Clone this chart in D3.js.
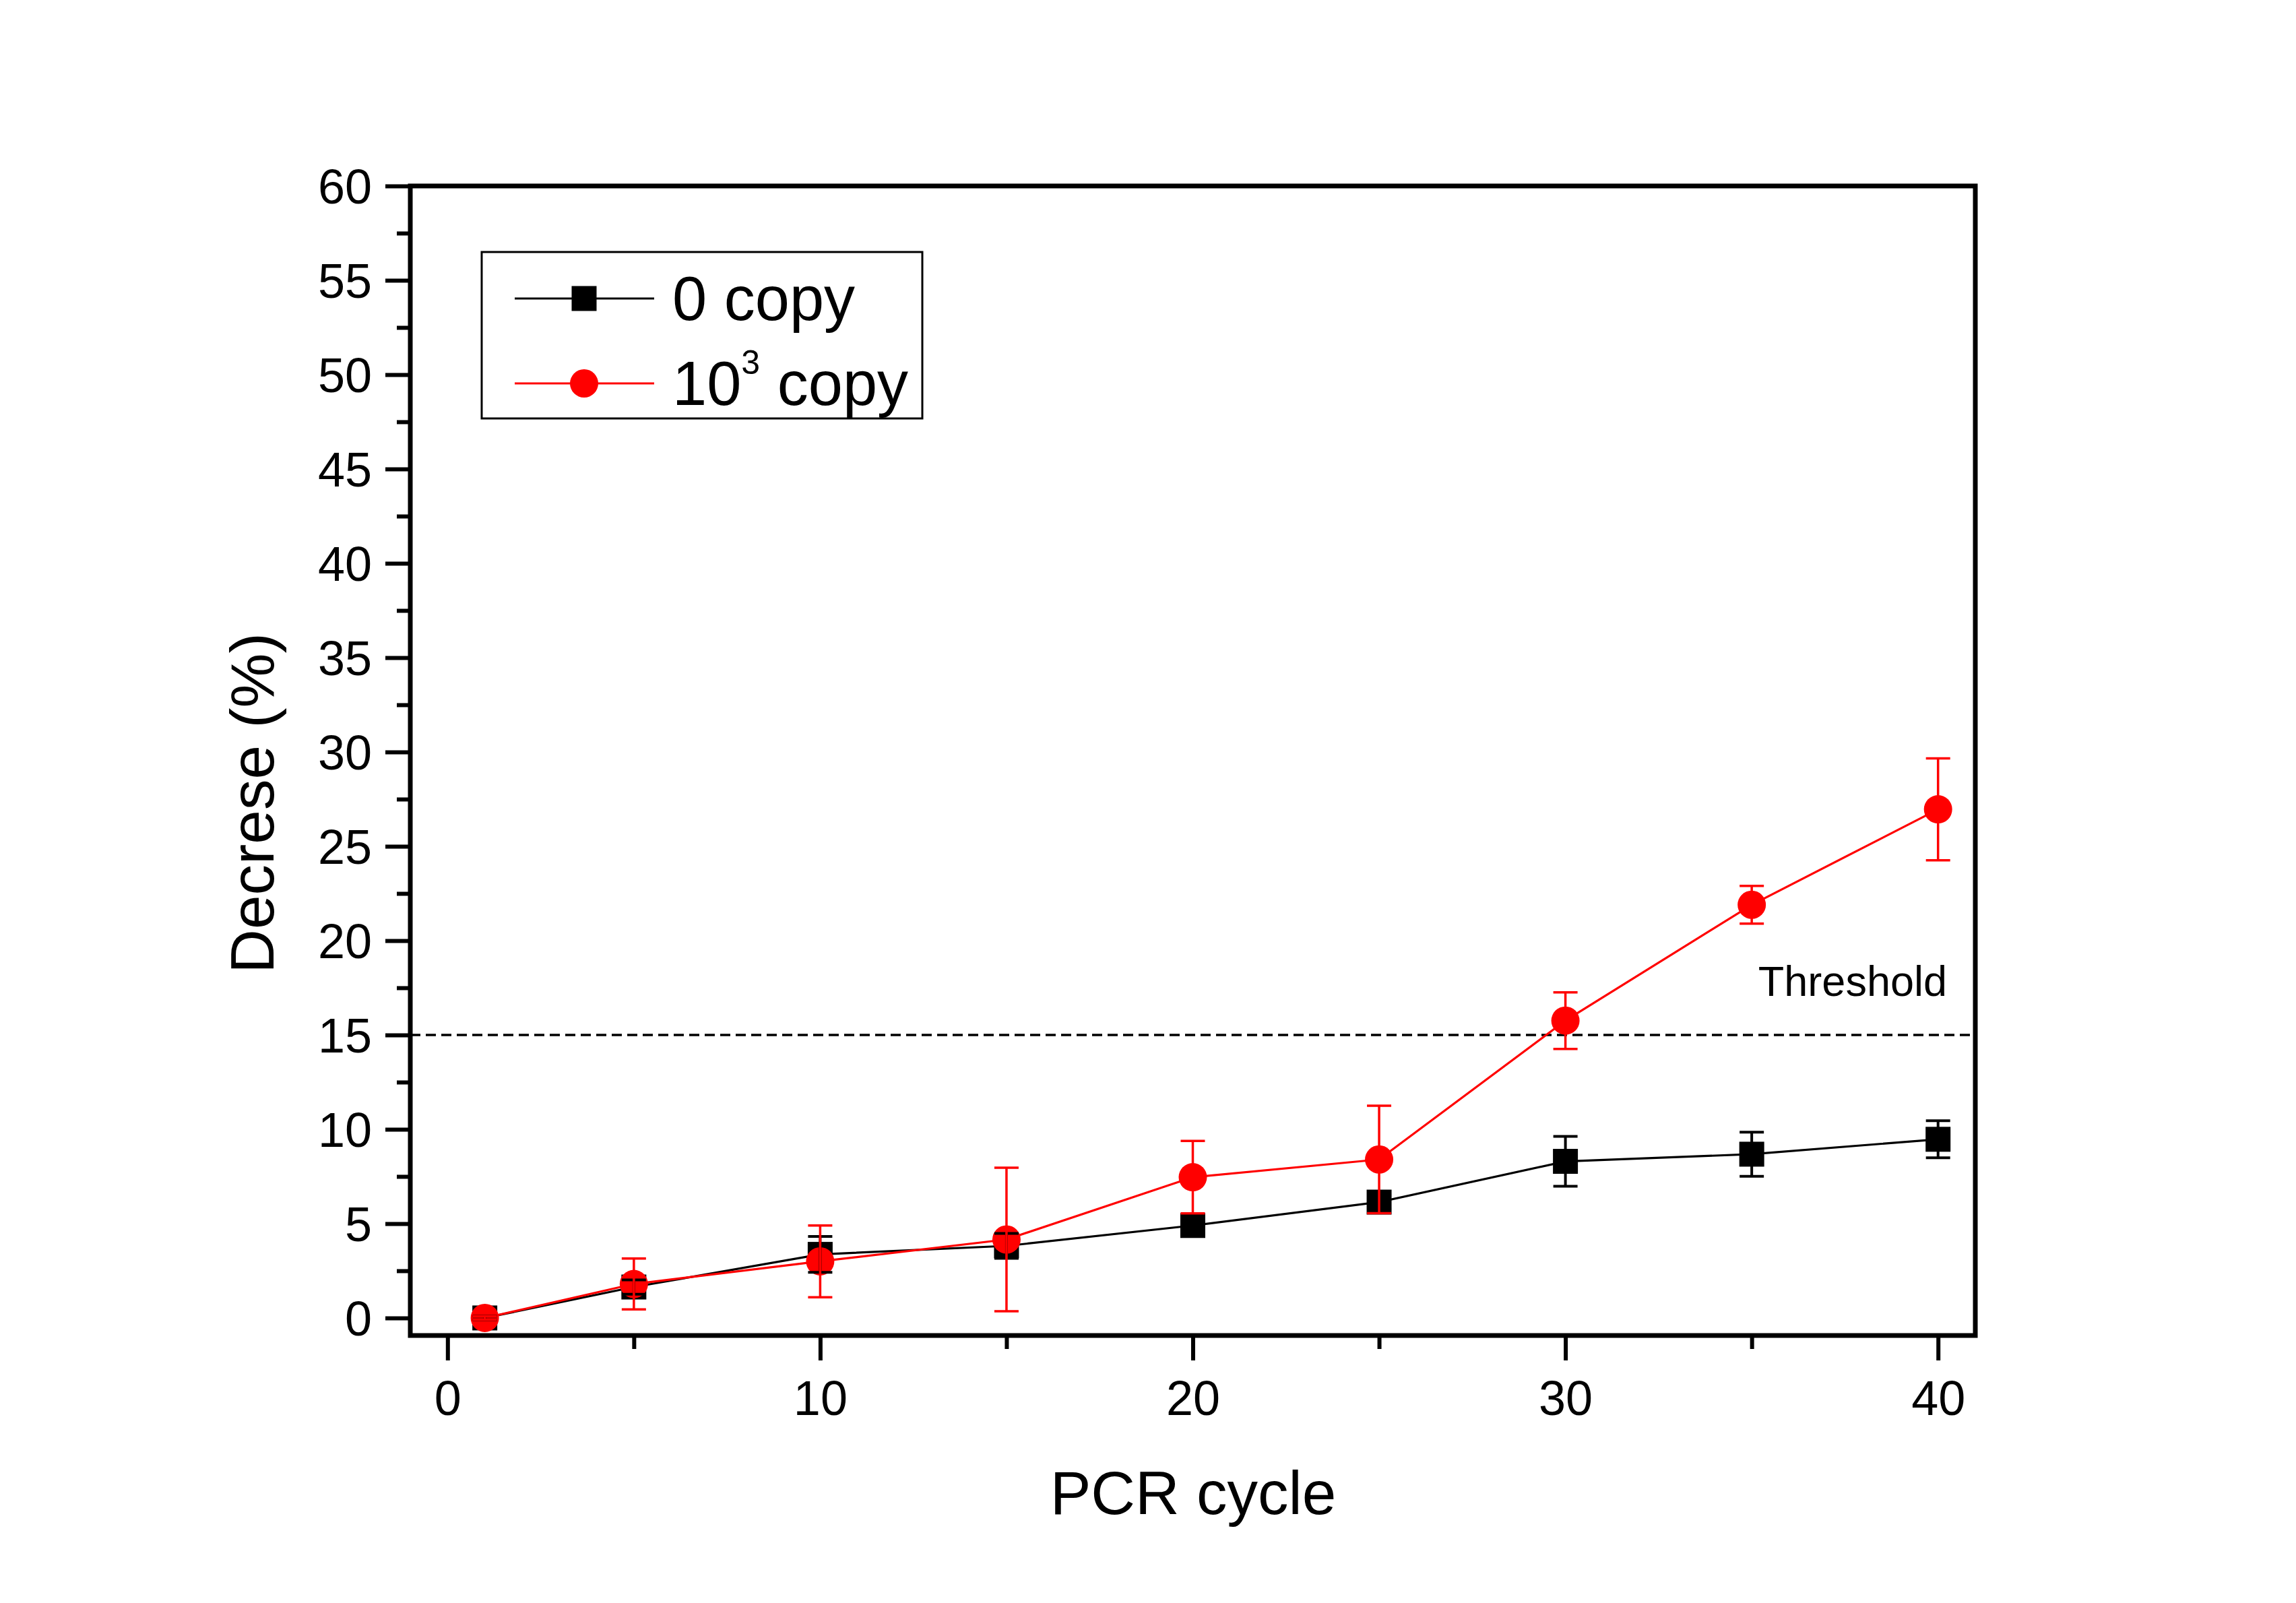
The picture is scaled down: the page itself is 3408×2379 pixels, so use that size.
<!DOCTYPE html>
<html>
<head>
<meta charset="utf-8">
<script src="https://cdn.jsdelivr.net/npm/d3@7"></script>
<style>
  html, body { margin: 0; padding: 0; background: #fff; }
  svg text { font-family: "Liberation Sans", Arial, sans-serif; fill: #000; }
</style>
</head>
<body>
<script>
// ---- data ----
const cycles = [1, 5, 10, 15, 20, 25, 30, 35, 40];
const zeroCopy = [0, 1.64, 3.37, 3.82, 4.9, 6.14, 8.3, 8.68, 9.47];
const zeroCopyErr = [0.1, 0.38, 0.95, 0.66, 0.35, 0.35, 1.32, 1.17, 0.98];
const thousandCopy = [0, 1.8, 3.0, 4.16, 7.46, 8.4, 15.76, 21.9, 26.96];
const thousandCopyErr = [0.1, 1.35, 1.9, 3.8, 1.92, 2.85, 1.5, 1.0, 2.7];
const thresholdValue = 15;
const xMajorTicks = [0, 10, 20, 30, 40];
const xMinorTicks = [5, 15, 25, 35];
const yMajorTicks = [0, 5, 10, 15, 20, 25, 30, 35, 40, 45, 50, 55, 60];
const yMinorTicks = [2.5, 7.5, 12.5, 17.5, 22.5, 27.5, 32.5, 37.5, 42.5, 47.5, 52.5, 57.5];
const seriesNames = ["0 copy", "10", "3", " copy"];

const W = 3408, H = 2379;
const plot = { left: 609, right: 2932, top: 276, bottom: 1982 };

const svg = d3.select("body").append("svg")
  .attr("width", W).attr("height", H)
  .attr("viewBox", `0 0 ${W} ${H}`);
svg.append("rect").attr("width", W).attr("height", H).attr("fill", "#fff");

const x = d3.scaleLinear().domain([-1, 41]).range([plot.left, plot.right]);
const y = d3.scaleLinear().domain([-0.93, 60]).range([plot.bottom, plot.top]);

// ---- axes ----
const gx = svg.append("g").attr("transform", `translate(0,${plot.bottom})`);
gx.call(d3.axisBottom(x).tickValues(xMajorTicks).tickSize(37).tickSizeOuter(0).tickPadding(8).tickFormat(d3.format("d")));
const gxm = svg.append("g").attr("transform", `translate(0,${plot.bottom})`);
gxm.call(d3.axisBottom(x).tickValues(xMinorTicks).tickSize(20).tickSizeOuter(0).tickFormat(""));

const gy = svg.append("g").attr("transform", `translate(${plot.left},0)`);
gy.call(d3.axisLeft(y).tickValues(yMajorTicks).tickSize(37).tickSizeOuter(0).tickPadding(20).tickFormat(d3.format("d")));
const gym = svg.append("g").attr("transform", `translate(${plot.left},0)`);
gym.call(d3.axisLeft(y).tickValues(yMinorTicks).tickSize(20).tickSizeOuter(0).tickFormat(""));

[gx, gxm, gy, gym].forEach(g => {
  g.select(".domain").remove();
  g.selectAll(".tick line").attr("stroke", "#000").attr("stroke-width", 6);
});
gx.selectAll(".tick text").attr("font-size", 72).attr("dy", null).attr("y", 118)
  .style("font-family", '"Liberation Sans", Arial, sans-serif');
gy.selectAll(".tick text").attr("font-size", 72).attr("dy", "0.35em")
  .style("font-family", '"Liberation Sans", Arial, sans-serif');

// frame
svg.append("rect")
  .attr("x", plot.left).attr("y", plot.top)
  .attr("width", plot.right - plot.left).attr("height", plot.bottom - plot.top)
  .attr("fill", "none").attr("stroke", "#000").attr("stroke-width", 7);

// threshold
svg.append("line")
  .attr("x1", plot.left).attr("x2", plot.right)
  .attr("y1", y(thresholdValue)).attr("y2", y(thresholdValue))
  .attr("stroke", "#000").attr("stroke-width", 3.5).attr("stroke-dasharray", "15,8");
svg.append("text")
  .attr("x", 2890).attr("y", 1478)
  .attr("text-anchor", "end").attr("font-size", 63)
  .text("Threshold");

// ---- series ----
const black = cycles.map((c, i) => ({ x: c, y: zeroCopy[i], e: zeroCopyErr[i] }));
const red = cycles.map((c, i) => ({ x: c, y: thousandCopy[i], e: thousandCopyErr[i] }));
const line = d3.line().x(d => x(d.x)).y(d => y(d.y));

svg.append("path").datum(black).attr("d", line)
  .attr("fill", "none").attr("stroke", "#000").attr("stroke-width", 3.2);
const sq = 37;
svg.append("g").selectAll("rect").data(black).join("rect")
  .attr("x", d => x(d.x) - sq / 2).attr("y", d => y(d.y) - sq / 2)
  .attr("width", sq).attr("height", sq).attr("fill", "#000");

svg.append("path").datum(red).attr("d", line)
  .attr("fill", "none").attr("stroke", "#ff0000").attr("stroke-width", 3.2);
svg.append("g").selectAll("circle").data(red).join("circle")
  .attr("cx", d => x(d.x)).attr("cy", d => y(d.y)).attr("r", 21)
  .attr("fill", "#ff0000");

function errorBars(data, color, w) {
  const g = svg.append("g").attr("stroke", color).attr("stroke-width", w);
  const cap = 18;
  data.forEach(d => {
    const cx = x(d.x), y1 = y(d.y + d.e), y0 = y(d.y - d.e);
    g.append("line").attr("x1", cx).attr("x2", cx).attr("y1", y1).attr("y2", y0);
    g.append("line").attr("x1", cx - cap).attr("x2", cx + cap).attr("y1", y1).attr("y2", y1);
    g.append("line").attr("x1", cx - cap).attr("x2", cx + cap).attr("y1", y0).attr("y2", y0);
  });
}
errorBars(black, "#000", 4);
errorBars(red, "#ff0000", 3.5);

// ---- legend ----
const lg = svg.append("g");
lg.append("rect").attr("x", 715).attr("y", 374).attr("width", 654).attr("height", 247)
  .attr("fill", "#fff").attr("stroke", "#000").attr("stroke-width", 3);
lg.append("line").attr("x1", 764).attr("x2", 971).attr("y1", 443).attr("y2", 443)
  .attr("stroke", "#000").attr("stroke-width", 3.2);
lg.append("rect").attr("x", 867 - sq / 2).attr("y", 443 - sq / 2).attr("width", sq).attr("height", sq).attr("fill", "#000");
lg.append("line").attr("x1", 764).attr("x2", 971).attr("y1", 569).attr("y2", 569)
  .attr("stroke", "#ff0000").attr("stroke-width", 3.2);
lg.append("circle").attr("cx", 867).attr("cy", 569).attr("r", 21).attr("fill", "#ff0000");
lg.append("text").attr("x", 998).attr("y", 475).attr("font-size", 92).text(seriesNames[0]);
const t2 = lg.append("text").attr("x", 998).attr("y", 601).attr("font-size", 92);
t2.append("tspan").text(seriesNames[1]);
t2.append("tspan").attr("dy", -46).attr("font-size", 50).text(seriesNames[2]);
t2.append("tspan").attr("dy", 46).text(seriesNames[3]);

// ---- axis titles ----
svg.append("text").attr("x", 1771).attr("y", 2247)
  .attr("text-anchor", "middle").attr("font-size", 91).text("PCR cycle");
svg.append("text")
  .attr("transform", "translate(406,1192) rotate(-90)")
  .attr("text-anchor", "middle").attr("font-size", 91).text("Decrese (%)");
</script>
</body>
</html>
